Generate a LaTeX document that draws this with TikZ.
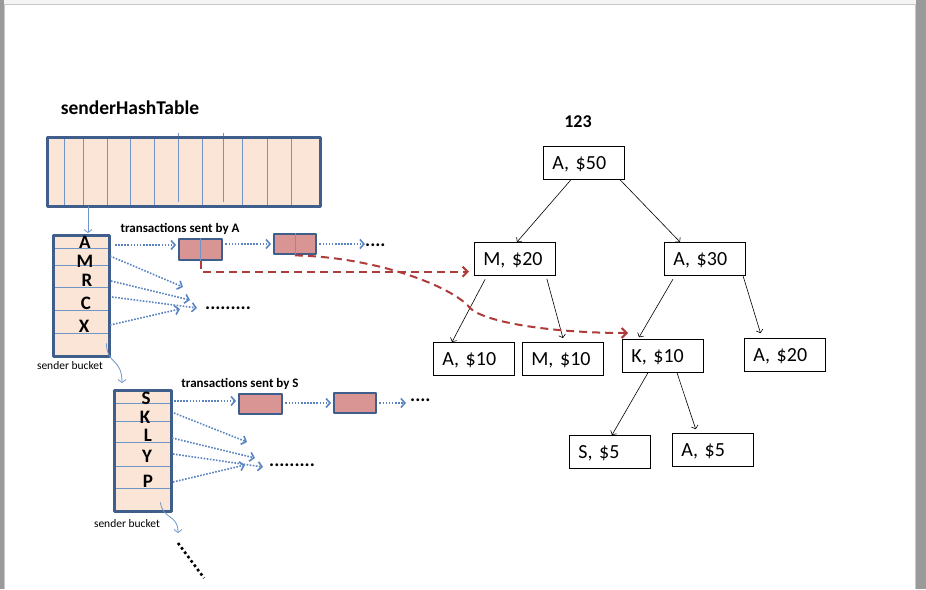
\documentclass[tikz,border=0pt]{standalone}
\usepackage{fontspec}
\setmainfont{Carlito}
\usetikzlibrary{arrows.meta,calc}
\definecolor{bord}{HTML}{3F5E8C}
\definecolor{peach}{HTML}{FBE5D6}
\definecolor{divblue}{HTML}{7096C8}
\definecolor{dotblue}{HTML}{5A85C2}
\definecolor{rosy}{HTML}{D99594}
\definecolor{reddash}{HTML}{AE3C3A}
\definecolor{stripgray}{HTML}{9A9A9A}
\definecolor{stripedge}{HTML}{C8C8C8}
\definecolor{topstrip}{HTML}{F4F4F4}
\newcommand\myfs[1]{\fontsize{#1}{#1}\selectfont}
\begin{document}
\begin{tikzpicture}[x=1pt,y=-1pt,
 fillbox/.style={fill=peach, draw=none, anchor=north west, inner sep=0pt},
 bordline/.style={draw=bord, line width=3pt, line join=round},
 divline/.style={draw=divblue, line width=0.9pt},
 tbox/.style={fill=rosy, draw=bord, line width=2.8pt, inner sep=0pt, line join=round},
 dotarr/.style={draw=dotblue, line width=1.6pt, dash pattern=on 1.6pt off 1.5pt, -{Straight Barb[length=4pt,width=9pt]}},
 thinarr/.style={draw=divblue, line width=0.8pt, -{Straight Barb[length=3pt,width=8pt]}},
 redarr/.style={draw=reddash, line width=2pt, dash pattern=on 8pt off 5pt, -{Straight Barb[length=5pt,width=10pt]}},
 tnode/.style={draw=black, line width=0.7pt, anchor=north west, minimum height=33pt, text width=63pt, inner xsep=9pt, inner ysep=0pt, align=left, text height=13pt, text depth=0pt, font=\myfs{20}},
 tedge/.style={draw=black, line width=0.6pt, -{Straight Barb[length=3pt,width=7pt]}},
 letter/.style={font=\myfs{19}\bfseries, anchor=base, inner sep=0pt},
 caption/.style={font=\myfs{13}\bfseries, anchor=base, inner sep=0pt},
 small/.style={font=\myfs{11.5}, anchor=base, inner sep=0pt},
 dots/.style={font=\myfs{19}\bfseries, anchor=base west, inner sep=0pt}]
\useasboundingbox (0,0) rectangle (926,589);
\fill[white] (0,0) rectangle (926,589);
\fill[topstrip] (0,0) rectangle (926,4);
\draw[stripedge, line width=0.8pt] (0,4.4) -- (915,4.4);
\fill[stripgray] (0,0) rectangle (4,589);
\draw[stripedge, line width=0.8pt] (4.4,4.4) -- (4.4,589);
\fill[stripgray] (915.5,0) rectangle (926,589);
\draw[stripedge, line width=0.8pt] (915,4.4) -- (915,589);

% ---------- hash table ----------
\node[font=\myfs{19.5}\bfseries, anchor=base, inner sep=0pt] (title) at (130,114) {senderHashTable};
\node[fillbox, minimum width=273pt, minimum height=69pt] (ht) at (47,137) {};
\foreach \x in {64,83,107,130,154,202,242,267,291} \draw[divline] (\x,137) -- (\x,206);
\foreach \x in {178,223} \draw[divline] (\x,133) -- (\x,202);
\draw[bordline] (ht.north west) rectangle (ht.south east);

% ---------- bucket 1 ----------
\node[fillbox, minimum width=56pt, minimum height=121pt] (b1) at (53,235) {};
\foreach \y in {248,265,287,310,333} \draw[divline] (53,\y) -- (109,\y);
\draw[bordline] (b1.north west) rectangle (b1.south east);
\node[letter] (bA) at (85,248) {A};
\node[letter] (bM) at (85,267) {M};
\node[letter] (bR) at (87,286) {R};
\node[letter] (bC) at (86,309) {C};
\node[letter] (bX) at (84,332) {X};
\node[small] (sb1) at (70,369) {sender bucket};
\draw[thinarr] ([xshift=41pt]ht.south west) -- ([xshift=35pt,yshift=2pt]b1.north west);

\node[caption] (capA) at (180,232) {transactions sent by A};
\node[tbox, minimum width=43pt, minimum height=21pt] (t1) at (200.5,249.5) {};
\draw[divline] (t1.north) -- (t1.south);
\node[tbox, minimum width=42pt, minimum height=20pt] (t2) at (295,244) {};
\draw[divline] (t2.north) -- (t2.south);
\node[dots] (dA) at (365,246) {....};
\node[dots] (dF1) at (205,309) {.........};

\coordinate (sA) at (115,245);
\coordinate (sM) at (110,256); \coordinate (eM) at (183,287);
\coordinate (sR) at (111,281); \coordinate (eR) at (190,300);
\coordinate (sC) at (112,297); \coordinate (eC) at (197,308);
\coordinate (sX) at (110,325); \coordinate (eX) at (180,309);
\draw[dotarr, shorten >=1.5pt] (sA) -- (sA -| t1.west);
\draw[dotarr, shorten <=2pt, shorten >=1.5pt] (t1.east |- t2.west) -- (t2.west);
\draw[dotarr, shorten <=2pt] (t2.east) -- (dA.west |- t2.east);
\draw[dotarr] (sM) -- (eM);
\draw[dotarr] (sR) -- (eR);
\draw[dotarr] (sC) -- (eC);
\draw[dotarr] (sX) -- (eX);

% ---------- bucket 2 ----------
\node[fillbox, minimum width=57pt, minimum height=121pt] (b2) at (114,390) {};
\foreach \y in {403,421,442,466,488} \draw[divline] (114,\y) -- (171,\y);
\draw[bordline] (b2.north west) rectangle (b2.south east);
\node[letter] (bS) at (146,404) {S};
\node[letter] (bK) at (145,423) {K};
\node[letter] (bL) at (148,441) {L};
\node[letter] (bY) at (147,462) {Y};
\node[letter] (bP) at (148,487) {P};
\node[small] (sb2) at (127,527) {sender bucket};
\draw[thinarr] ([xshift=-3pt,yshift=13pt]b1.south east) .. controls (107,365) and (122,358) .. ([xshift=8pt,yshift=7pt]b2.north west);
\coordinate (w2) at (178,533);
\draw[thinarr] ([xshift=-11pt,yshift=9pt]b2.south east) .. controls (163,520) and (178,514) .. (w2);
\coordinate (dg1) at (178,543);
\coordinate (dg2) at (204,578);
\draw[black, line width=2.6pt, dash pattern=on 2.6pt off 2.8pt] (dg1) -- (dg2);

\node[caption] (capS) at (240,387) {transactions sent by S};
\node[tbox, minimum width=43pt, minimum height=20pt] (s1) at (260.5,404) {};
\node[tbox, minimum width=42pt, minimum height=20pt] (s2) at (355,403) {};
\node[dots] (dS) at (410,401) {....};
\node[dots] (dF2) at (269,466) {.........};

\coordinate (sS) at (174,401);
\coordinate (sK) at (174,413); \coordinate (eK) at (247,442);
\coordinate (sL) at (172,438); \coordinate (eL) at (255,458);
\coordinate (sY) at (173,454); \coordinate (eY) at (263,467);
\coordinate (sP) at (173,482); \coordinate (eP) at (245,465);
\draw[dotarr, shorten >=1.5pt] (sS) -- (sS -| s1.west);
\draw[dotarr, shorten <=2pt, shorten >=1.5pt] (s1.east |- s2.west) -- (s2.west);
\draw[dotarr, shorten <=2pt] (s2.east) -- ([xshift=-4pt]dS.west |- s2.east);
\draw[dotarr] (sK) -- (eK);
\draw[dotarr] (sL) -- (eL);
\draw[dotarr] (sY) -- (eY);
\draw[dotarr] (sP) -- (eP);

% ---------- tree ----------
\node[font=\myfs{18}\bfseries, anchor=base, inner sep=0pt] (root) at (578,127) {123};
\node[tnode] (a50) at (543,146) {A, \$50};
\node[tnode] (m20) at (474,242) {M, \$20};
\node[tnode] (a30) at (664,242) {A, \$30};
\node[tnode] (a10) at (433,342) {A, \$10};
\node[tnode] (m10) at (522,342) {M, \$10};
\node[tnode] (k10) at (622,339) {K, \$10};
\node[tnode] (a20) at (744,338) {A, \$20};
\node[tnode] (s5) at (569,435) {S, \$5};
\node[tnode] (a5) at (672,433) {A, \$5};

\draw[tedge] ([xshift=28pt]a50.south west) -- ([xshift=43pt]m20.north west);
\draw[tedge] ([xshift=77pt]a50.south west) -- ([xshift=16pt]a30.north west);
\draw[tedge, shorten <=4pt] ([xshift=13pt]m20.south west) -- ([xshift=19pt]a10.north west);
\draw[tedge, shorten <=3pt, shorten >=4pt] ([xshift=72pt]m20.south west) -- ([xshift=42pt]m10.north west);
\draw[tedge, shorten <=4pt, shorten >=2pt] ([xshift=11pt]a30.south west) -- ([xshift=16pt]k10.north west);
\draw[tedge, shorten >=5pt] ([xshift=79pt]a30.south west) -- ([xshift=18pt]a20.north west);
\draw[tedge] ([xshift=26pt]k10.south west) -- ([xshift=43pt]s5.north west);
\draw[tedge, shorten >=4pt] ([xshift=55pt]k10.south west) -- ([xshift=25pt]a5.north west);

% ---------- red dashed links ----------
\draw[redarr] (t1.south) |- ([xshift=-5pt,yshift=4pt]m20.south west);
\draw[redarr] (t2.south) .. controls (375,257) and (452,286) .. (470,308) .. controls (484,322) and (550,333) .. ([xshift=6pt,yshift=6pt]k10.north west);
\end{tikzpicture}
\end{document}
